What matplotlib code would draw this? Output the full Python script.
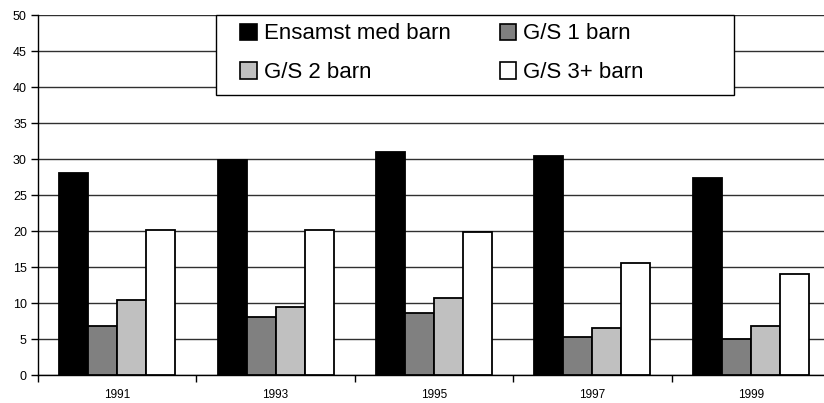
import numpy as np
import matplotlib
matplotlib.use('Agg')
import matplotlib.pyplot as plt
from matplotlib.patches import Patch, Rectangle

plt.rcParams['font.family'] = ['Liberation Sans', 'DejaVu Sans']

years = ['1991', '1993', '1995', '1997', '1999']
series = ['Ensamst med barn', 'G/S 1 barn', 'G/S 2 barn', 'G/S 3+ barn']
ensamst = [28.0, 29.9, 31.0, 30.4, 27.4]
gs1 = [6.8, 8.0, 8.6, 5.3, 5.0]
gs2 = [10.4, 9.5, 10.7, 6.5, 6.8]
gs3 = [20.2, 20.2, 19.9, 15.5, 14.0]
colors = ['#000000', '#808080', '#c0c0c0', '#ffffff']

W, H = 824, 403
fig = plt.figure(figsize=(W / 100, H / 100), dpi=100)
# plot area runs past the right edge of the picture, as in the original
ax = fig.add_axes([38 / W, 1 - 375 / H, 792 / W, 360 / H])

x = np.arange(len(years))
bw = 0.183
for i, (vals, c) in enumerate(zip([ensamst, gs1, gs2, gs3], colors)):
    ax.bar(x + (i - 1.5) * bw, vals, bw, color=c, edgecolor='black',
           linewidth=1.3, zorder=3)

ax.set_xlim(-0.5, len(years) - 0.5)
ax.set_ylim(0, 50)
ax.set_yticks(range(0, 51, 5))
ax.yaxis.grid(True, color='#303030', linewidth=1.0, zorder=0)
ax.set_axisbelow(True)

ax.set_xticks(x)
ax.set_xticklabels(years)
ax.set_xticks(np.arange(-0.5, len(years), 1), minor=True)
ax.tick_params(axis='x', which='major', length=0, pad=10, labelsize=8.5)
ax.tick_params(axis='x', which='minor', length=5, width=1, direction='out')
ax.tick_params(axis='y', length=5, width=1, direction='out', labelsize=9, pad=3)

for s in ['top', 'right']:
    ax.spines[s].set_visible(False)
for s in ['left', 'bottom']:
    ax.spines[s].set_linewidth(1.0)
    ax.spines[s].set_color('black')

# legend box (wider than its entries, as in the original)
box = Rectangle((216 / W, 1 - 95 / H), 518 / W, 80 / H, transform=fig.transFigure,
                facecolor='white', edgecolor='black', linewidth=1.0, zorder=4)
fig.patches.append(box)

handles = [Patch(facecolor=c, edgecolor='black', linewidth=1.2) for c in colors]
order = [0, 2, 1, 3]
leg = fig.legend([handles[i] for i in order], [series[i] for i in order],
                 ncol=2, loc='upper left', bbox_to_anchor=(236 / W, 1 - 19 / H),
                 bbox_transform=fig.transFigure, borderaxespad=0,
                 fontsize=16, frameon=False,
                 handlelength=0.75, handleheight=0.75, handletextpad=0.3,
                 columnspacing=2.2, labelspacing=0.8, borderpad=0.2)
leg.set_zorder(5)

fig.savefig('out.png', dpi=100)
